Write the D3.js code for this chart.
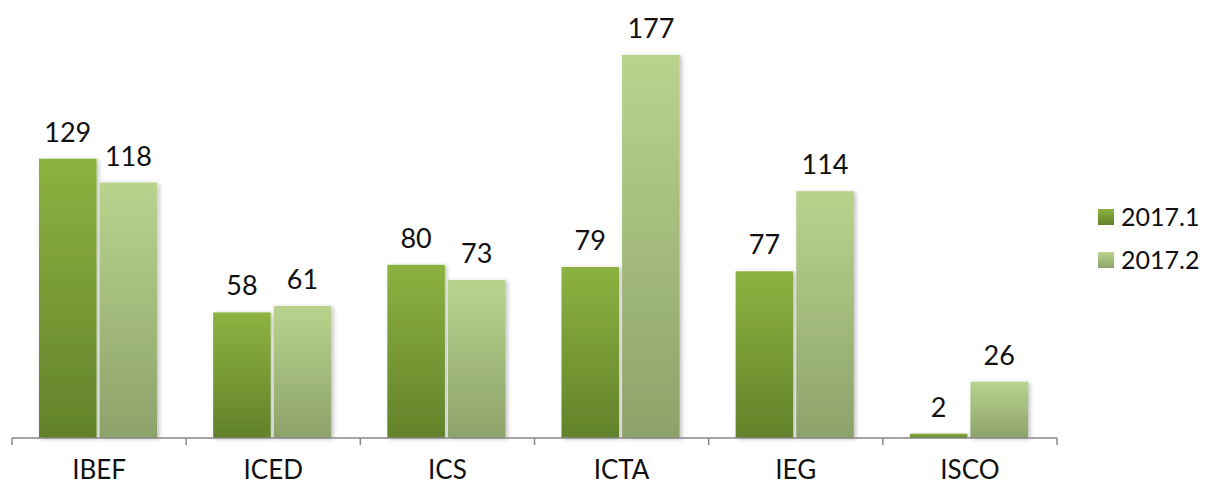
<!DOCTYPE html>
<html>
<head>
<meta charset="utf-8">
<script src="https://cdn.jsdelivr.net/npm/d3@7"></script>
<style>
  body { margin: 0; background: #fff; }
  text { font-family: Lato, "DejaVu Sans", sans-serif; fill: #111; }
</style>
</head>
<body>
<svg id="chart" width="1208" height="485"></svg>
<script>
// data
var categories = ["IBEF", "ICED", "ICS", "ICTA", "IEG", "ISCO"];
var seriesNames = ["2017.1", "2017.2"];
var values1 = [129, 58, 80, 79, 77, 2];
var values2 = [118, 61, 73, 177, 114, 26];

var svg = d3.select("#chart");
var defs = svg.append("defs");

// gradients for the two series
var grads = [
    {id: "g1", top: "#8cb240", bottom: "#62822a"},
    {id: "g2", top: "#b9d38d", bottom: "#8da26a"}
];
grads.forEach(function(g) {
    var lg = defs.append("linearGradient").attr("id", g.id)
        .attr("x1", 0).attr("y1", 0).attr("x2", 0).attr("y2", 1);
    lg.append("stop").attr("offset", "0%").attr("stop-color", g.top);
    lg.append("stop").attr("offset", "100%").attr("stop-color", g.bottom);
});

var shadow = defs.append("filter").attr("id", "shadow")
    .attr("x", "-20%").attr("y", "-20%").attr("width", "140%").attr("height", "140%");
shadow.append("feDropShadow").attr("dx", 2).attr("dy", 1).attr("stdDeviation", 2)
    .attr("flood-color", "#000").attr("flood-opacity", 0.25);

var left = 12, right = 1057, baseY = 438;

var x = d3.scaleBand().domain(categories).range([left, right]).paddingInner(0).paddingOuter(0);
var xs = d3.scaleBand().domain(seriesNames).range([27, x.bandwidth() - 29]).paddingInner(0.05);
var y = d3.scaleLinear().domain([0, 200]).range([baseY, 5]);

var rows = categories.map(function(c, i) {
    return {cat: c, vals: [values1[i], values2[i]]};
});

var groups = svg.selectAll("g.cat").data(rows).enter().append("g")
    .attr("class", "cat")
    .attr("transform", function(d) { return "translate(" + x(d.cat) + ",0)"; });

groups.selectAll("rect").data(function(d) { return d.vals; }).enter().append("rect")
    .attr("x", function(d, i) { return xs(seriesNames[i]); })
    .attr("y", function(d) { return y(d); })
    .attr("width", xs.bandwidth())
    .attr("height", function(d) { return baseY - y(d); })
    .attr("fill", function(d, i) { return "url(#" + grads[i].id + ")"; })
    .attr("filter", "url(#shadow)");

groups.selectAll("text.val").data(function(d) { return d.vals; }).enter().append("text")
    .attr("class", "val")
    .attr("x", function(d, i) { return xs(seriesNames[i]) + xs.bandwidth() / 2; })
    .attr("y", function(d) { return y(d) - 17; })
    .attr("text-anchor", "middle")
    .style("font-size", "27px")
    .text(function(d) { return d; });

// x axis
var axis = svg.append("g")
    .attr("transform", "translate(0," + baseY + ")")
    .call(d3.axisBottom(x).tickSize(0).tickPadding(0));
axis.select(".domain").attr("stroke", "#888").attr("stroke-width", 1.5)
    .attr("d", "M" + left + ",0H" + right);
axis.selectAll(".tick text").style("font-size", "26px").attr("fill", "#111")
    .attr("dy", null).attr("y", 41);

var boundaries = categories.map(function(c) { return x(c); }).concat([right]);
axis.selectAll("line.sep").data(boundaries).enter().append("line")
    .attr("class", "sep")
    .attr("x1", function(d) { return d; }).attr("x2", function(d) { return d; })
    .attr("y1", 0).attr("y2", 7)
    .attr("stroke", "#888").attr("stroke-width", 1.5);

// legend
var legend = svg.append("g").attr("transform", "translate(1098,209)");
var li = legend.selectAll("g").data(seriesNames).enter().append("g")
    .attr("transform", function(d, i) { return "translate(0," + (i * 43) + ")"; });
li.append("rect").attr("width", 16).attr("height", 16)
    .attr("fill", function(d, i) { return "url(#" + grads[i].id + ")"; });
li.append("text").attr("x", 23).attr("y", 17)
    .style("font-size", "25px")
    .text(function(d) { return d; });
</script>
</body>
</html>
